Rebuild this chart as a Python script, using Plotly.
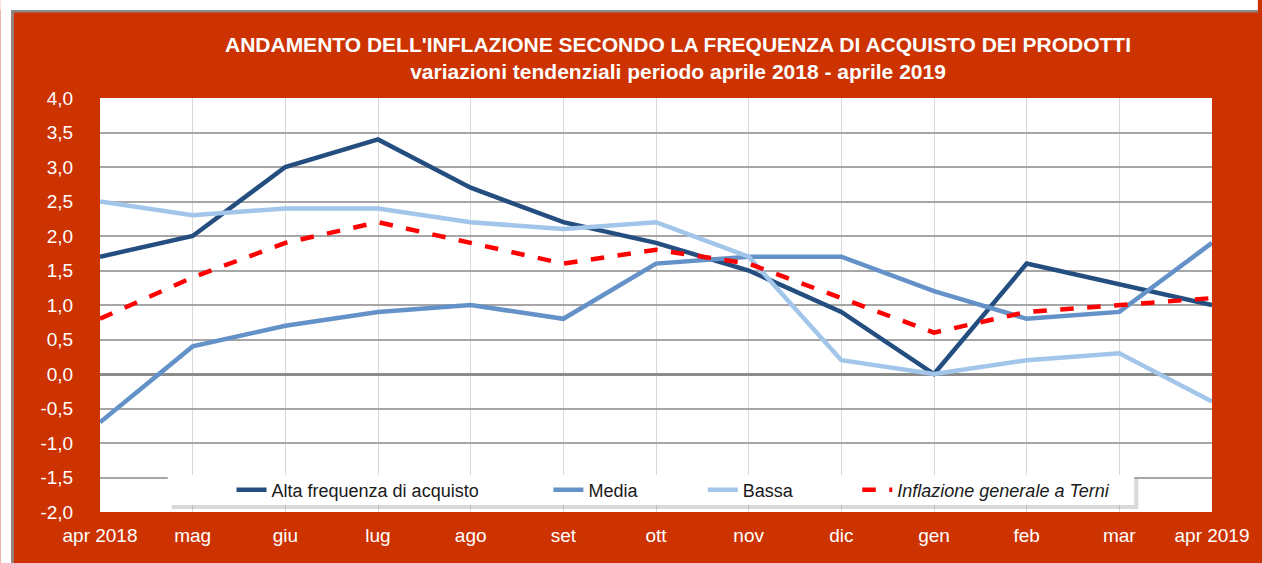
import plotly.graph_objects as go

months = ["apr 2018", "mag", "giu", "lug", "ago", "set", "ott", "nov", "dic", "gen", "feb", "mar", "apr 2019"]
alta = [1.7, 2.0, 3.0, 3.4, 2.7, 2.2, 1.9, 1.5, 0.9, 0.0, 1.6, 1.3, 1.0]
media = [-0.7, 0.4, 0.7, 0.9, 1.0, 0.8, 1.6, 1.7, 1.7, 1.2, 0.8, 0.9, 1.9]
bassa = [2.5, 2.3, 2.4, 2.4, 2.2, 2.1, 2.2, 1.7, 0.2, 0.0, 0.2, 0.3, -0.4]
inflazione = [0.8, 1.4, 1.9, 2.2, 1.9, 1.6, 1.8, 1.6, 1.1, 0.6, 0.9, 1.0, 1.1]

y_tick_values = [-2.0, -1.5, -1.0, -0.5, 0.0, 0.5, 1.0, 1.5, 2.0, 2.5, 3.0, 3.5, 4.0]
y_tick_labels = ["-2,0", "-1,5", "-1,0", "-0,5", "0,0", "0,5", "1,0", "1,5", "2,0", "2,5", "3,0", "3,5", "4,0"]

series_names = ["Alta frequenza di acquisto", "Media", "Bassa", "<i>Inflazione generale a Terni</i>"]

W, H = 1262, 563
L, R, T, B = 100, 1216, 98, 512
RED = "#CC3300"
FONT = "Liberation Sans, Arial, sans-serif"


def px(x):
    return (x - L) / (R - L)


def py(y):
    return (B - y) / (B - T)


fig = go.Figure()
styles = [
    dict(color="#244D80", width=4.5),
    dict(color="#6391C8", width=4.5),
    dict(color="#A2C5EA", width=4.5),
    dict(color="#FF0000", width=4.5, dash="dash"),
]
legend_ids = ["legend", "legend2", "legend3", "legend4"]
for name, vals, st, lg in zip(series_names, [alta, media, bassa, inflazione], styles, legend_ids):
    fig.add_trace(go.Scatter(x=months, y=vals, mode="lines", name=name, line=st, legend=lg,
                             hoverinfo="skip"))

shapes = [
    # white margins with grey border line
    dict(type="rect", xref="paper", yref="paper", x0=px(0), x1=px(W), y0=py(0), y1=py(10),
         fillcolor="white", line=dict(width=0), layer="above"),
    dict(type="rect", xref="paper", yref="paper", x0=px(0), x1=px(11), y0=py(0), y1=py(H),
         fillcolor="white", line=dict(width=0), layer="above"),
    dict(type="rect", xref="paper", yref="paper", x0=px(11), x1=px(W), y0=py(10), y1=py(12.5),
         fillcolor="#8C8C8C", line=dict(width=0), layer="above"),
    dict(type="rect", xref="paper", yref="paper", x0=px(11), x1=px(13.5), y0=py(10), y1=py(H),
         fillcolor="#8C8C8C", line=dict(width=0), layer="above"),
    # legend box shadow + box
    dict(type="rect", xref="paper", yref="paper", x0=px(172), x1=px(1142), y0=py(479), y1=py(509),
         fillcolor="rgba(0,0,0,0.15)", line=dict(width=0), layer="above"),
    dict(type="rect", xref="paper", yref="paper", x0=px(168), x1=px(1138), y0=py(475), y1=py(505),
         fillcolor="white", line=dict(width=0), layer="above"),
]

legend_x = [232, 550, 705, 860]
legend_common = dict(orientation="h", xanchor="left", y=py(490), yanchor="middle",
                     bgcolor="rgba(0,0,0,0)", borderwidth=0,
                     font=dict(family=FONT, size=18, color="#1A1A1A"))

layout_legends = {lg: dict(x=px(x0), **legend_common) for lg, x0 in zip(legend_ids, legend_x)}

fig.update_layout(
    width=W, height=H,
    margin=dict(l=L, r=W - R, t=T, b=H - B),
    paper_bgcolor=RED, plot_bgcolor="white",
    font=dict(family=FONT, color="white", size=18),
    title=dict(
        text="<b>ANDAMENTO DELL'INFLAZIONE SECONDO LA FREQUENZA DI ACQUISTO DEI PRODOTTI</b><br>"
             "<b>variazioni tendenziali periodo aprile 2018 - aprile 2019</b>",
        x=678 / W, xanchor="center", y=1 - 52 / H, yanchor="middle",
        font=dict(family=FONT, size=21, color="white"),
    ),
    xaxis=dict(type="category", range=[0, len(months) - 1], showgrid=True, gridcolor="#D9D9D9",
               gridwidth=1.2, ticks="outside", ticklen=6, tickcolor="rgba(0,0,0,0)",
               showline=False, zeroline=False,
               tickfont=dict(size=19, color="white"), fixedrange=True),
    yaxis=dict(range=[-2, 4], tickmode="array", tickvals=y_tick_values, ticktext=y_tick_labels,
               showgrid=True, gridcolor="#A6A6A6",
               gridwidth=1.5, zeroline=True, zerolinecolor="#8C8C8C", zerolinewidth=3,
               ticks="outside", ticklen=22, tickcolor="rgba(0,0,0,0)",
               tickfont=dict(size=19, color="white"), fixedrange=True),
    showlegend=True,
    shapes=shapes,
    **layout_legends,
)

fig.write_html("out.html", config={"displayModeBar": False},
               post_script="document.body.style.margin='0';document.body.style.overflow='hidden';")
